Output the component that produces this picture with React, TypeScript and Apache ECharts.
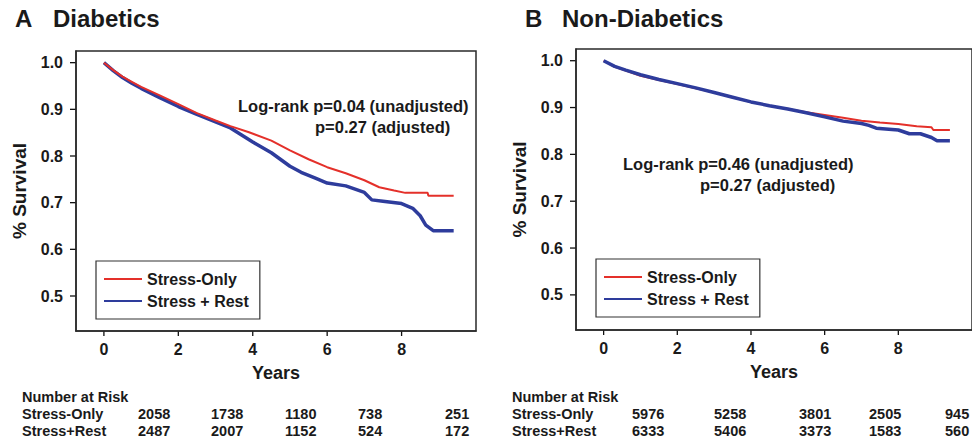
import React, { useEffect, useRef } from "react";
import * as echarts from "echarts";

// ---- Data ----
const xTicks = [0, 2, 4, 6, 8];
const yTicks = [0.5, 0.6, 0.7, 0.8, 0.9, 1.0];

const diabYearsStressOnly = [0, 0.25, 0.5, 0.75, 1.0, 1.5, 2.0, 2.5, 3.0, 3.4, 3.9, 4.5, 5.0, 5.5, 6.0, 6.5, 7.0, 7.4, 7.8, 8.1, 8.7, 8.72, 9.4];
const diabSurvStressOnly = [1.0, 0.984, 0.97, 0.959, 0.948, 0.93, 0.911, 0.892, 0.876, 0.864, 0.851, 0.833, 0.812, 0.793, 0.776, 0.763, 0.748, 0.733, 0.726, 0.721, 0.721, 0.715, 0.715];
const diabYearsStressRest = [0, 0.25, 0.5, 0.75, 1.0, 1.5, 2.0, 2.5, 3.0, 3.4, 3.7, 4.0, 4.5, 5.0, 5.3, 5.7, 6.0, 6.5, 7.0, 7.2, 7.5, 8.0, 8.3, 8.5, 8.65, 8.85, 9.4];
const diabSurvStressRest = [1.0, 0.983, 0.968, 0.956, 0.945, 0.925, 0.906, 0.889, 0.873, 0.86, 0.845, 0.83, 0.807, 0.778, 0.765, 0.752, 0.742, 0.736, 0.722, 0.706, 0.703, 0.698, 0.688, 0.672, 0.652, 0.64, 0.64];

const nonDiabYearsStressOnly = [0, 0.3, 0.6, 1.0, 1.5, 2.0, 2.5, 3.0, 3.5, 4.0, 4.5, 5.0, 5.5, 6.0, 6.5, 7.0, 7.5, 8.0, 8.5, 8.9, 8.95, 9.4];
const nonDiabSurvStressOnly = [1.0, 0.987, 0.979, 0.968, 0.959, 0.95, 0.941, 0.932, 0.922, 0.912, 0.904, 0.897, 0.89, 0.884, 0.878, 0.872, 0.868, 0.865, 0.86, 0.858, 0.852, 0.852];
const nonDiabYearsStressRest = [0, 0.3, 0.6, 1.0, 1.5, 2.0, 2.5, 3.0, 3.5, 4.0, 4.5, 5.0, 5.5, 6.0, 6.5, 7.0, 7.2, 7.4, 8.0, 8.3, 8.6, 8.9, 9.05, 9.4];
const nonDiabSurvStressRest = [1.0, 0.988, 0.98, 0.97, 0.96, 0.951, 0.942, 0.932, 0.922, 0.912, 0.904, 0.897, 0.889, 0.88, 0.871, 0.866, 0.862, 0.856, 0.852, 0.844, 0.844, 0.836, 0.829, 0.829];

const riskRowLabels = ["Stress-Only", "Stress+Rest"];
const diabRiskStressOnly = [2058, 1738, 1180, 738, 251];
const diabRiskStressRest = [2487, 2007, 1152, 524, 172];
const nonDiabRiskStressOnly = [5976, 5258, 3801, 2505, 945];
const nonDiabRiskStressRest = [6333, 5406, 3373, 1583, 560];

const seriesNames = ["Stress-Only", "Stress + Rest"];
const panelTitles = [["A", "Diabetics"], ["B", "Non-Diabetics"]];
const annotations = [
  ["Log-rank p=0.04 (unadjusted)", "p=0.27 (adjusted)"],
  ["Log-rank p=0.46 (unadjusted)", "p=0.27 (adjusted)"],
];

// ---- Styling / layout ----
const RED = "#e4302a";
const BLUE = "#2e3c9c";
const FONT = "'Liberation Sans', Arial, Helvetica, sans-serif";
const DARK = "#1a1a1a";
const X_MIN = -0.75;
const Y_MIN = 0.425;

const pairs = (xs: number[], ys: number[]) => xs.map((x, i) => [x, ys[i]]);

export default function App() {
  const ref = useRef<HTMLDivElement>(null);
  useEffect(() => {
    if (!ref.current) return;
    const chart = echarts.init(ref.current, null, { renderer: "svg" });

    const grids = [
      { left: 76, top: 51, width: 400, height: 280 },
      { left: 576, top: 49, width: 402, height: 281 },
    ];

    const xAxis = grids.map((_, i) => ({
      type: "value",
      gridIndex: i,
      position: "bottom",
      min: X_MIN,
      max: 10,
      splitLine: { show: false },
      axisLine: { show: true, onZero: false, lineStyle: { color: "#2a2a2a", width: 1.5 } },
      axisTick: { show: false },
      axisLabel: {
        customValues: xTicks,
        margin: 10,
        color: DARK,
        fontFamily: FONT,
        fontWeight: "bold",
        fontSize: 16,
      },
      name: "Years",
      nameLocation: "middle",
      nameGap: 33,
      nameTextStyle: { color: DARK, fontFamily: FONT, fontWeight: "bold", fontSize: 18 },
    }));

    const yAxis = grids.map((_, i) => ({
      type: "value",
      gridIndex: i,
      position: "left",
      min: Y_MIN,
      max: 1.025,
      splitLine: { show: false },
      axisLine: { show: true, onZero: false, lineStyle: { color: "#2a2a2a", width: 1.5 } },
      axisTick: { show: false },
      axisLabel: {
        customValues: yTicks,
        margin: 13,
        color: DARK,
        fontFamily: FONT,
        fontWeight: "bold",
        fontSize: 16,
        formatter: (v: number) => v.toFixed(1),
      },
      name: "% Survival",
      nameLocation: "middle",
      nameRotate: 90,
      nameGap: 47,
      nameTextStyle: { color: DARK, fontFamily: FONT, fontWeight: "bold", fontSize: 19 },
    }));

    const mk = (name: string, idx: number, data: number[][], color: string, width: number, z: number) => ({
      type: "line",
      name,
      xAxisIndex: idx,
      yAxisIndex: idx,
      data,
      symbol: "none",
      showSymbol: false,
      z,
      lineStyle: { color, width },
      itemStyle: { color },
    });

    const series = [
      mk(seriesNames[0], 0, pairs(diabYearsStressOnly, diabSurvStressOnly), RED, 2, 3),
      mk(seriesNames[1], 0, pairs(diabYearsStressRest, diabSurvStressRest), BLUE, 3.5, 2),
      mk(seriesNames[0], 1, pairs(nonDiabYearsStressOnly, nonDiabSurvStressOnly), RED, 2, 2),
      mk(seriesNames[1], 1, pairs(nonDiabYearsStressRest, nonDiabSurvStressRest), BLUE, 3.5, 3),
    ];

    const legendBase = {
      orient: "vertical",
      itemWidth: 38,
      itemHeight: 14,
      itemGap: 6,
      padding: [10, 11, 10, 7],
      borderColor: "#333",
      borderWidth: 1.2,
      selectedMode: false,
      data: seriesNames,
      itemStyle: { opacity: 0 },
      textStyle: { color: DARK, fontFamily: FONT, fontWeight: "bold", fontSize: 16 },
    };
    const legend = [
      { ...legendBase, left: 96, top: 261 },
      { ...legendBase, left: 596, top: 259 },
    ];

    const textStyle = (size: number) => ({
      fill: DARK,
      font: `bold ${size}px ${FONT}`,
      textVerticalAlign: "middle",
      verticalAlign: "middle",
    });

    const graphic: any[] = [];
    // Panel titles
    const titleX = [[15, 53], [525, 562]];
    panelTitles.forEach((t, i) => {
      graphic.push({ type: "text", left: titleX[i][0], top: 6, style: { ...textStyle(24), text: t[0] } });
      graphic.push({ type: "text", left: titleX[i][1], top: 6, style: { ...textStyle(24), text: t[1] } });
    });
    // Annotations
    const annPos = [
      [[238, 97], [315, 118]],
      [[623, 155], [700, 176]],
    ];
    annotations.forEach((lines, i) => {
      lines.forEach((ln, j) => {
        graphic.push({ type: "text", left: annPos[i][j][0], top: annPos[i][j][1], style: { ...textStyle(16.5), text: ln } });
      });
    });
    // Number at risk tables
    const tableX = [22, 512];
    const colX = [
      [138, 211, 285, 358, 445],
      [632, 714, 799, 869, 945],
    ];
    const rows = [
      [diabRiskStressOnly, diabRiskStressRest],
      [nonDiabRiskStressOnly, nonDiabRiskStressRest],
    ];
    const rowY = [406, 423];
    [0, 1].forEach((p) => {
      graphic.push({ type: "text", left: tableX[p], top: 389, style: { ...textStyle(14.5), text: "Number at Risk" } });
      riskRowLabels.forEach((lbl, r) => {
        graphic.push({ type: "text", left: tableX[p], top: rowY[r], style: { ...textStyle(14.5), text: lbl } });
        rows[p][r].forEach((v, c) => {
          graphic.push({ type: "text", left: colX[p][c], top: rowY[r], style: { ...textStyle(14.5), text: String(v) } });
        });
      });
    });

    chart.setOption({
      animation: false,
      backgroundColor: "#ffffff",
      grid: grids.map((g) => ({ ...g, show: true, borderColor: "#2a2a2a", borderWidth: 1.5, backgroundColor: "transparent", containLabel: false })),
      xAxis,
      yAxis,
      series,
      legend,
      graphic,
    });

    // Tick marks positioned through the chart's own scales
    const tickStyle = { stroke: "#111", lineWidth: 1.3 };
    const ticks: any[] = [];
    grids.forEach((_, gi) => {
      xTicks.forEach((v) => {
        const p = chart.convertToPixel({ gridIndex: gi } as any, [v, Y_MIN]) as number[];
        ticks.push({ type: "line", silent: true, shape: { x1: p[0], y1: p[1], x2: p[0], y2: p[1] + 5 }, style: tickStyle });
      });
      yTicks.forEach((v) => {
        const p = chart.convertToPixel({ gridIndex: gi } as any, [X_MIN, v]) as number[];
        ticks.push({ type: "line", silent: true, shape: { x1: p[0], y1: p[1], x2: p[0] - 6, y2: p[1] }, style: tickStyle });
      });
    });
    chart.setOption({ graphic: [...graphic, ...ticks] });

    return () => chart.dispose();
  }, []);
  return <div ref={ref} style={{ width: 972, height: 441, position: "absolute", left: 0, top: 0 }} />;
}
